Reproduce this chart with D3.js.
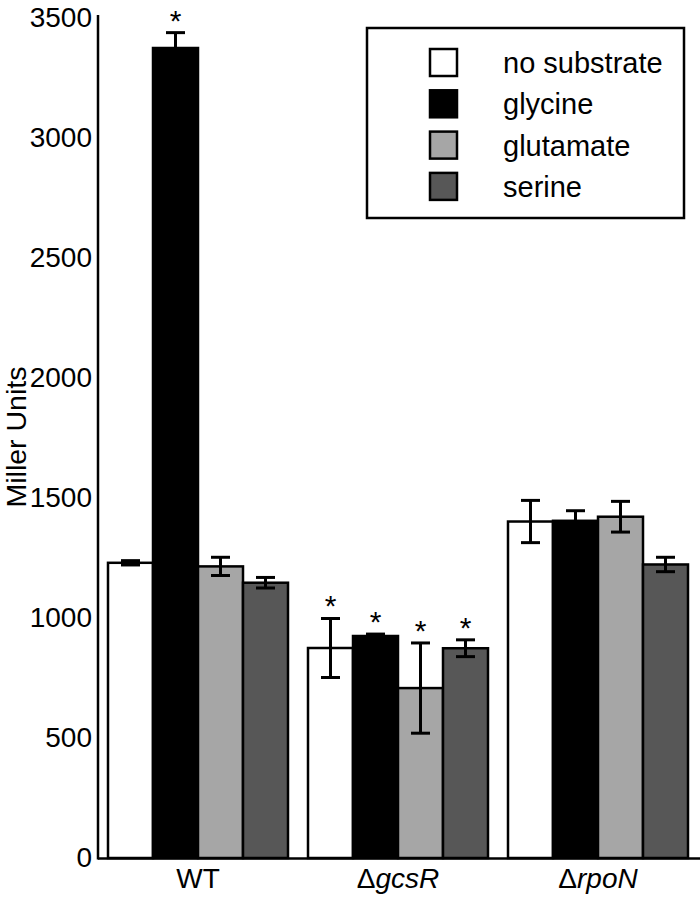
<!DOCTYPE html>
<html>
<head>
<meta charset="utf-8">
<script src="https://cdn.jsdelivr.net/npm/d3@7"></script>
<style>
  html, body { margin: 0; padding: 0; background: #fff; }
  svg { display: block; font-family: "Liberation Sans", Arial, Helvetica, sans-serif; }
</style>
</head>
<body>
<svg id="chart" width="700" height="897"></svg>
<script>
// ---- data ----
const groups = ["WT", "gcsR", "rpoN"];
const groupPrefix = ["", "Δ", "Δ"];
const groupItalic = [false, true, true];
const series = ["no substrate", "glycine", "glutamate", "serine"];
const seriesColors = ["#ffffff", "#000000", "#a6a6a6", "#575757"];
const valuesNoSubstrate = [1230, 875, 1402];
const valuesGlycine = [3375, 925, 1405];
const valuesGlutamate = [1215, 708, 1422];
const valuesSerine = [1147, 874, 1223];
const errNoSubstrate = [9, 123, 88];
const errGlycine = [64, 8, 42];
const errGlutamate = [38, 188, 64];
const errSerine = [22, 35, 30];
const sigNoSubstrate = [false, true, false];
const sigGlycine = [true, true, false];
const sigGlutamate = [false, true, false];
const sigSerine = [false, true, false];
const yTicks = [0, 500, 1000, 1500, 2000, 2500, 3000, 3500];
const yLabel = "Miller Units";

const allValues = [valuesNoSubstrate, valuesGlycine, valuesGlutamate, valuesSerine];
const allErr = [errNoSubstrate, errGlycine, errGlutamate, errSerine];
const allSig = [sigNoSubstrate, sigGlycine, sigGlutamate, sigSerine];

const rows = [];
groups.forEach((g, gi) => {
  series.forEach((s, si) => {
    rows.push({ group: g, series: s, si, value: allValues[si][gi], err: allErr[si][gi], sig: allSig[si][gi] });
  });
});

// ---- layout ----
const svg = d3.select("#chart");
const mLeft = 98, mRight = 698, mTop = 18, mBottom = 858;

const y = d3.scaleLinear().domain([0, 3500]).range([mBottom, mTop]);
const x0 = d3.scaleBand().domain(groups).range([mLeft, mRight]).paddingInner(0.1).paddingOuter(0.05);
const x1 = d3.scaleBand().domain(series).range([0, x0.bandwidth()]).padding(0);
const color = d3.scaleOrdinal().domain(series).range(seriesColors);

// bars
const g = svg.append("g");
g.selectAll("rect.bar").data(rows).join("rect")
  .attr("class", "bar")
  .attr("x", d => x0(d.group) + x1(d.series))
  .attr("y", d => y(d.value))
  .attr("width", x1.bandwidth())
  .attr("height", d => y(0) - y(d.value))
  .attr("fill", d => color(d.series))
  .attr("stroke", "#000")
  .attr("stroke-width", 2.5);

// error bars
const capW = 19;
const cx = d => x0(d.group) + x1(d.series) + x1.bandwidth() / 2;
const eb = g.selectAll("g.err").data(rows).join("g").attr("class", "err");
eb.append("line")
  .attr("x1", cx).attr("x2", cx)
  .attr("y1", d => y(d.value - d.err))
  .attr("y2", d => y(d.value + d.err))
  .attr("stroke", "#000").attr("stroke-width", 3);
eb.append("line")
  .attr("x1", d => cx(d) - capW / 2).attr("x2", d => cx(d) + capW / 2)
  .attr("y1", d => y(d.value + d.err)).attr("y2", d => y(d.value + d.err))
  .attr("stroke", "#000").attr("stroke-width", 3);
eb.append("line")
  .attr("x1", d => cx(d) - capW / 2).attr("x2", d => cx(d) + capW / 2)
  .attr("y1", d => y(d.value - d.err)).attr("y2", d => y(d.value - d.err))
  .attr("stroke", "#000").attr("stroke-width", 3);

// asterisks
g.selectAll("text.sig").data(rows.filter(d => d.sig)).join("text")
  .attr("class", "sig")
  .attr("x", cx)
  .attr("y", d => y(d.value + d.err) - 2)
  .attr("text-anchor", "middle")
  .attr("font-size", 30)
  .attr("fill", "#000")
  .text("*");

// y axis
const yAxis = d3.axisLeft(y).tickValues(yTicks).tickSize(0).tickPadding(6).tickFormat(d3.format("d"));
const ya = svg.append("g").attr("transform", `translate(${mLeft},0)`).call(yAxis);
ya.select(".domain").remove();
ya.selectAll("text").attr("font-size", 28).attr("fill", "#000")
  .attr("font-family", "'Liberation Sans', Arial, sans-serif");
svg.append("line").attr("x1", mLeft).attr("x2", mLeft).attr("y1", mTop - 3).attr("y2", mBottom + 1.5)
  .attr("stroke", "#000").attr("stroke-width", 2.5);

// x axis
const xAxis = d3.axisBottom(x0).tickSize(0).tickPadding(0).tickFormat(() => "");
const xa = svg.append("g").attr("transform", `translate(0,${mBottom})`).call(xAxis);
xa.select(".domain").remove();
svg.append("line").attr("x1", mLeft).attr("x2", 700).attr("y1", mBottom + 0.5).attr("y2", mBottom + 0.5)
  .attr("stroke", "#000").attr("stroke-width", 2.5);
const xl = svg.append("g").selectAll("text").data(groups).join("text")
  .attr("x", d => x0(d) + x0.bandwidth() / 2)
  .attr("y", 888)
  .attr("text-anchor", "middle")
  .attr("font-size", 28)
  .attr("fill", "#000");
xl.each(function (d, i) {
  const t = d3.select(this);
  if (groupPrefix[i]) t.append("tspan").text(groupPrefix[i]);
  t.append("tspan").attr("font-style", groupItalic[i] ? "italic" : "normal").text(d);
});

// y label
svg.append("text")
  .attr("transform", `translate(26,437) rotate(-90)`)
  .attr("text-anchor", "middle")
  .attr("font-size", 28.5)
  .attr("fill", "#000")
  .text(yLabel);

// legend
const lg = svg.append("g");
lg.append("rect").attr("x", 367).attr("y", 28).attr("width", 317).attr("height", 190)
  .attr("fill", "#fff").attr("stroke", "#000").attr("stroke-width", 2.5);
const items = lg.selectAll("g.item").data(series).join("g").attr("class", "item")
  .attr("transform", (d, i) => `translate(430,${49 + i * 41.3})`);
items.append("rect").attr("x", 0).attr("y", 0).attr("width", 27).attr("height", 27)
  .attr("fill", d => color(d)).attr("stroke", "#000").attr("stroke-width", 2.5);
items.append("text").attr("x", 73).attr("y", 14).attr("dy", "0.35em")
  .attr("font-size", 29).attr("fill", "#000").text(d => d);
</script>
</body>
</html>
